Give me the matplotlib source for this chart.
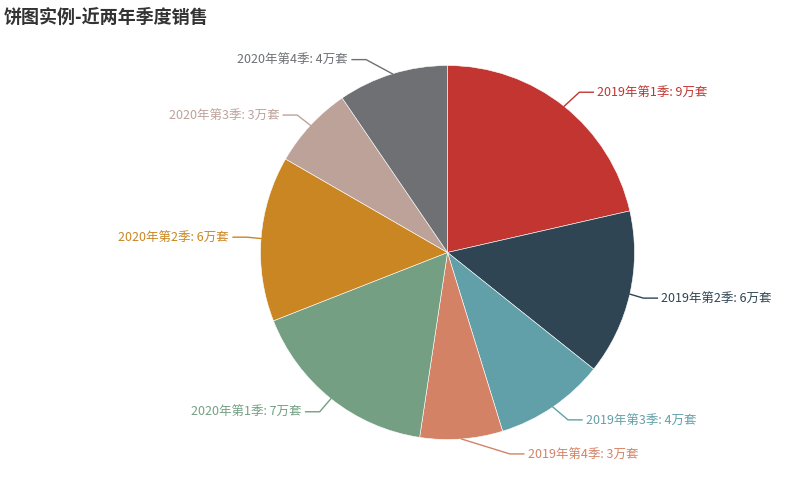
import numpy as np
import matplotlib
matplotlib.use("Agg")
import matplotlib.pyplot as plt

plt.rcParams['font.family'] = ['Noto Sans CJK SC', 'DejaVu Sans']

# data
categories = ['2019年第1季', '2019年第2季', '2019年第3季', '2019年第4季',
              '2020年第1季', '2020年第2季', '2020年第3季', '2020年第4季']
sales = [9, 6, 4, 3, 7, 6, 3, 4]
colors = ['#c23531', '#2f4554', '#61a0a8', '#d48265',
          '#749f83', '#ca8622', '#bda29a', '#6e7074']
title = '饼图实例-近两年季度销售'

# label layout nudges (px, right / down) of the leader-line bend, like echarts' label shifting
nudges = [(4, 0), (-4, 0), (5, -2), (47, -3), (0, -1), (4, 0), (0, 2), (-21, 3)]

W, H = 794, 489
cx, cy, r = 447.5, H - 253.5, 187
len1, len2, gap = 18, 14, 4

fig = plt.figure(figsize=(W / 100, H / 100), dpi=100)
ax = fig.add_axes([0, 0, 1, 1])

wedges, _ = ax.pie(sales, colors=colors, startangle=90, counterclock=False,
                   center=(cx, cy), radius=r,
                   wedgeprops=dict(edgecolor='white', linewidth=0.4))

# pie() resets the limits, so set pixel-like coords afterwards
ax.set_xlim(0, W)
ax.set_ylim(0, H)
ax.set_aspect('equal')
ax.axis('off')

for w, cat, val, col, (nx, ny) in zip(wedges, categories, sales, colors, nudges):
    ang = np.deg2rad((w.theta1 + w.theta2) / 2)
    x0, y0 = cx + r * np.cos(ang), cy + r * np.sin(ang)
    x1 = cx + (r + len1) * np.cos(ang) + nx
    y1 = cy + (r + len1) * np.sin(ang) - ny
    side = 1 if np.cos(ang) >= 0 else -1
    x2 = x1 + side * len2
    ax.plot([x0, x1, x2], [y0, y1, y1], color=col, lw=1)
    ax.text(x2 + side * gap, y1, f'{cat}: {val}万套', color=col, fontsize=9,
            ha='left' if side > 0 else 'right', va='center')

ax.text(4, H - 17, title, fontsize=13, fontweight='bold', color='#333333',
        ha='left', va='center')

fig.savefig('out.png', dpi=100)
